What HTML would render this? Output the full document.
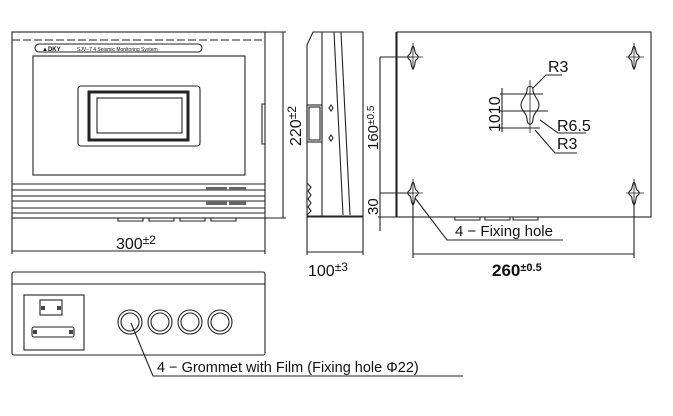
<!DOCTYPE html>
<html><head><meta charset="utf-8"><style>body{margin:0;background:#fff}svg{display:block}text{font-family:"Liberation Sans",sans-serif;fill:#111}</style></head><body>
<svg width="673" height="416" viewBox="0 0 673 416" xmlns="http://www.w3.org/2000/svg" fill="none" stroke="#222" stroke-width="1.1">
<!-- front view -->
<rect x="12" y="32" width="253" height="186"/>
<line x1="12" y1="40" x2="265" y2="40" stroke-dasharray="8 3"/>
<rect x="35" y="44" width="167" height="8" rx="4"/>
<text x="42" y="51" font-size="6" stroke="none" font-weight="bold">▲DKY</text>
<text x="77" y="51" font-size="5" stroke="none">SJV−7 4 Seismic Monitoring System</text>
<rect x="33" y="56" width="212" height="119"/>
<rect x="78" y="86" width="122" height="60" rx="3"/>
<rect x="89" y="92" width="99" height="48" stroke-width="3"/>
<rect x="97" y="98" width="85" height="35"/>
<line x1="12" y1="184" x2="265" y2="184"/><line x1="12" y1="190" x2="265" y2="190"/><line x1="12" y1="196" x2="265" y2="196"/><line x1="12" y1="201" x2="265" y2="201"/><line x1="12" y1="208" x2="265" y2="208"/><line x1="12" y1="213" x2="265" y2="213"/>
<g fill="#666" stroke="none"><rect x="206" y="187" width="21" height="3"/><rect x="229" y="187" width="17" height="3"/><rect x="206" y="201" width="21" height="4"/><rect x="229" y="201" width="17" height="4"/></g>
<path d="M118 218v3h25v-3M149 218v3h25v-3M180 218v3h25v-3M211 218v3h25v-3"/>
<path d="M265 104h-3v40h3"/>
<line x1="265" y1="32" x2="286" y2="32"/><line x1="265" y1="218" x2="286" y2="218"/><line x1="283" y1="32" x2="283" y2="218"/>
<text transform="translate(301 146) rotate(-90)" font-size="16" stroke="none">220<tspan font-size="12" dy="-5">±2</tspan></text>
<line x1="12" y1="218" x2="12" y2="254"/><line x1="265" y1="218" x2="265" y2="254"/><line x1="12" y1="251" x2="265" y2="251"/>
<text x="116" y="249" font-size="16" stroke="none">300<tspan font-size="12" dy="-5">±2</tspan></text>
<!-- side view -->
<path d="M313 32H363V217H307V45Z"/>
<line x1="322" y1="32" x2="322" y2="217"/>
<line x1="334" y1="32" x2="343" y2="215"/><line x1="341" y1="32" x2="350" y2="215"/>
<line x1="307" y1="216" x2="363" y2="216"/>
<rect x="307" y="105" width="15" height="37"/><rect x="309" y="107" width="11" height="33"/>
<path d="M331 105l2 3-2 3-2-3zM331 135l2 3-2 3-2-3z"/>
<path d="M307 183l4 4-3 4 3 4-3 4 3 4-3 4 3 4-4 4"/>
<line x1="307" y1="217" x2="307" y2="255"/><line x1="363" y1="217" x2="363" y2="255"/><line x1="307" y1="252" x2="363" y2="252"/>
<text x="308" y="276" font-size="16" stroke="none">100<tspan font-size="12" dy="-5">±3</tspan></text>
<!-- rear view -->
<rect x="397" y="32" width="254" height="185"/>
<line x1="396" y1="32" x2="396" y2="217"/>
<g id="kh"><path d="M413 46c-3 4-1 6-3 8-3 2-3 4 0 6 2 2 0 5 3 9 3-4 1-7 3-9 3-2 3-4 0-6-2-2 0-4-3-8z"/><line x1="413" y1="43" x2="413" y2="70" stroke-width="0.8"/><line x1="405" y1="57" x2="423" y2="57" stroke-width="0.8"/></g>
<use href="#kh" x="221"/><use href="#kh" y="136"/><use href="#kh" x="221" y="136"/>
<line x1="380" y1="57" x2="413" y2="57"/><line x1="380" y1="193" x2="413" y2="193"/><line x1="378" y1="217" x2="397" y2="217"/>
<line x1="380" y1="57" x2="380" y2="231"/>
<text transform="translate(378 150) rotate(-90)" font-size="15" stroke="none">160<tspan font-size="10" dy="-4">±0.5</tspan></text>
<text transform="translate(378 215) rotate(-90)" font-size="15" stroke="none">30</text>
<path d="M527 90c0-5 6-5 6 0 0 6 6 9 6 15s-6 8-6 14c0 7-6 7-6 0 0-6-6-8-6-14s6-9 6-15z"/>
<line x1="530" y1="80" x2="530" y2="133" stroke-width="0.8"/>
<line x1="500" y1="94" x2="543" y2="94"/><line x1="500" y1="111" x2="548" y2="111"/><line x1="500" y1="128" x2="540" y2="128"/>
<line x1="502" y1="88" x2="502" y2="132"/>
<text transform="translate(500 132) rotate(-90)" font-size="16" stroke="none">1010</text>
<text x="548" y="72" font-size="16" stroke="none">R3</text><path d="M533 88l13-13h16"/>
<text x="557" y="131" font-size="16" stroke="none">R6.5</text><path d="M540 120l18 13h28"/>
<text x="557" y="149" font-size="16" stroke="none">R3</text><path d="M535 130l20 23h22"/>
<path d="M415 198l32 42h116"/>
<text x="455" y="236" font-size="15" stroke="none">4 − Fixing hole</text>
<path d="M455 217v3h25v-3M485 217v3h25v-3M513 217v3h25v-3" stroke-width="1"/>
<line x1="413" y1="200" x2="413" y2="258"/><line x1="634" y1="200" x2="634" y2="258"/><line x1="413" y1="254" x2="634" y2="254"/>
<text x="492" y="276" font-size="17" font-weight="bold" stroke="none">260<tspan font-size="11" dy="-5">±0.5</tspan></text>
<!-- bottom view -->
<rect x="12" y="272" width="253" height="83" rx="2"/>
<line x1="12" y1="284" x2="265" y2="284"/>
<rect x="24" y="295" width="60" height="55"/>
<rect x="40" y="300" width="22" height="15"/><rect x="32" y="327" width="42" height="10" rx="2"/>
<g fill="#444" stroke="none"><rect x="41" y="306" width="4" height="4"/><rect x="57" y="306" width="4" height="4"/><rect x="33" y="330" width="4" height="4"/><rect x="69" y="330" width="4" height="4"/></g>
<g><circle cx="130" cy="322" r="12"/><circle cx="130" cy="322" r="9"/><circle cx="160" cy="322" r="12"/><circle cx="160" cy="322" r="9"/><circle cx="190" cy="322" r="12"/><circle cx="190" cy="322" r="9"/><circle cx="220" cy="322" r="12"/><circle cx="220" cy="322" r="9"/></g>
<path d="M131 323l22 53h310"/>
<text x="157" y="372" font-size="14.5" stroke="none">4 − Grommet with Film (Fixing hole Φ22)</text>
</svg>
</body></html>
